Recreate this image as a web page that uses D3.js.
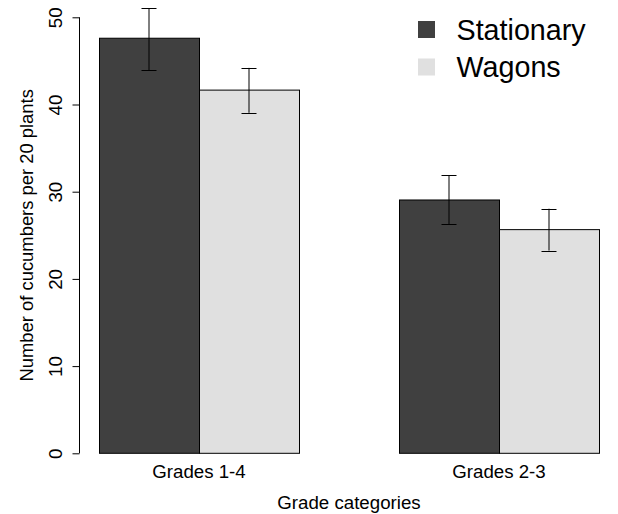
<!DOCTYPE html>
<html>
<head>
<meta charset="utf-8">
<script src="https://cdn.jsdelivr.net/npm/d3@7"></script>
<style>
  html, body { margin: 0; padding: 0; background: #fff; }
  svg { display: block; font-family: "Liberation Sans", Arial, sans-serif; }
</style>
</head>
<body>
<svg id="chart" width="618" height="514"></svg>
<script>
const groups = ["Grades 1-4", "Grades 2-3"];
const series = ["Stationary", "Wagons"];
const means = {
  "Stationary": [47.6, 29.05],
  "Wagons": [41.65, 25.65]
};
const lower = {
  "Stationary": [43.95, 26.25],
  "Wagons": [39.05, 23.25]
};
const upper = {
  "Stationary": [51.05, 31.9],
  "Wagons": [44.2, 28.05]
};
const colors = ["#404040", "#E0E0E0"];
const yTicks = [0, 10, 20, 30, 40, 50];

const svg = d3.select("#chart");

const y = d3.scaleLinear().domain([0, 50]).range([453.3, 17.3]);
const x0 = d3.scaleBand().domain(groups).range([99, 599]).paddingInner(1/3).paddingOuter(0);
const x1 = d3.scaleBand().domain(series).range([0, x0.bandwidth()]);
const color = d3.scaleOrdinal().domain(series).range(colors);

const data = [];
groups.forEach((g, gi) => {
  series.forEach(s => {
    data.push({ group: g, series: s, value: means[s][gi], lo: lower[s][gi], hi: upper[s][gi] });
  });
});

// bars
svg.append("g").selectAll("rect").data(data).join("rect")
  .attr("x", d => x0(d.group) + x1(d.series) + 0.5)
  .attr("y", d => y(d.value))
  .attr("width", x1.bandwidth())
  .attr("height", d => y(0) - y(d.value))
  .attr("fill", d => color(d.series))
  .attr("stroke", "#000")
  .attr("stroke-width", 1);

// error bars
const eb = svg.append("g").attr("stroke", "#000").attr("stroke-width", 1);
data.forEach(d => {
  const cx = x0(d.group) + x1(d.series) + x1.bandwidth() / 2;
  eb.append("line").attr("x1", cx).attr("x2", cx).attr("y1", y(d.hi)).attr("y2", y(d.lo));
  [d.hi, d.lo].forEach(v => {
    const yy = Math.round(y(v)) + 0.5;
    eb.append("line").attr("x1", cx - 7.5).attr("x2", cx + 7.5).attr("y1", yy).attr("y2", yy);
  });
});

// y axis
const yAxis = d3.axisLeft(y).tickValues(yTicks).tickSize(7).tickPadding(10).tickFormat(d3.format("d"));
const ga = svg.append("g").attr("transform", "translate(79.5,0)").call(yAxis);
ga.select(".domain").attr("d", `M0,${y(50)}V${y(0)}`).attr("stroke", "#000");
ga.selectAll(".tick line").attr("stroke", "#000");
ga.selectAll(".tick text")
  .attr("x", null).attr("dy", null)
  .attr("transform", "translate(-17.5,0) rotate(-90)")
  .attr("text-anchor", "middle")
  .attr("font-size", "18.7px")
  .attr("font-family", "Liberation Sans, Arial, sans-serif")
  .attr("fill", "#000");

// x labels
svg.append("g").selectAll("text").data(groups).join("text")
  .attr("x", d => x0(d) + x0.bandwidth() / 2)
  .attr("y", 478)
  .attr("text-anchor", "middle")
  .attr("font-size", "18.7px")
  .text(d => d);

// axis titles
svg.append("text")
  .attr("x", 349).attr("y", 509)
  .attr("text-anchor", "middle")
  .attr("font-size", "18.7px")
  .text("Grade categories");

svg.append("text")
  .attr("transform", `translate(32.5,${(y(0) + y(50)) / 2}) rotate(-90)`)
  .attr("text-anchor", "middle")
  .attr("font-size", "18.4px")
  .text("Number of cucumbers per 20 plants");

// legend
const lg = svg.append("g");
series.forEach((s, i) => {
  const cy = 29.5 + i * 37.5;
  lg.append("rect").attr("x", 418).attr("y", cy - 8.5).attr("width", 17).attr("height", 17)
    .attr("fill", colors[i]);
  lg.append("text").attr("x", 456.5).attr("y", cy + 10.2)
    .attr("font-size", "28.7px").text(s);
});
</script>
</body>
</html>
